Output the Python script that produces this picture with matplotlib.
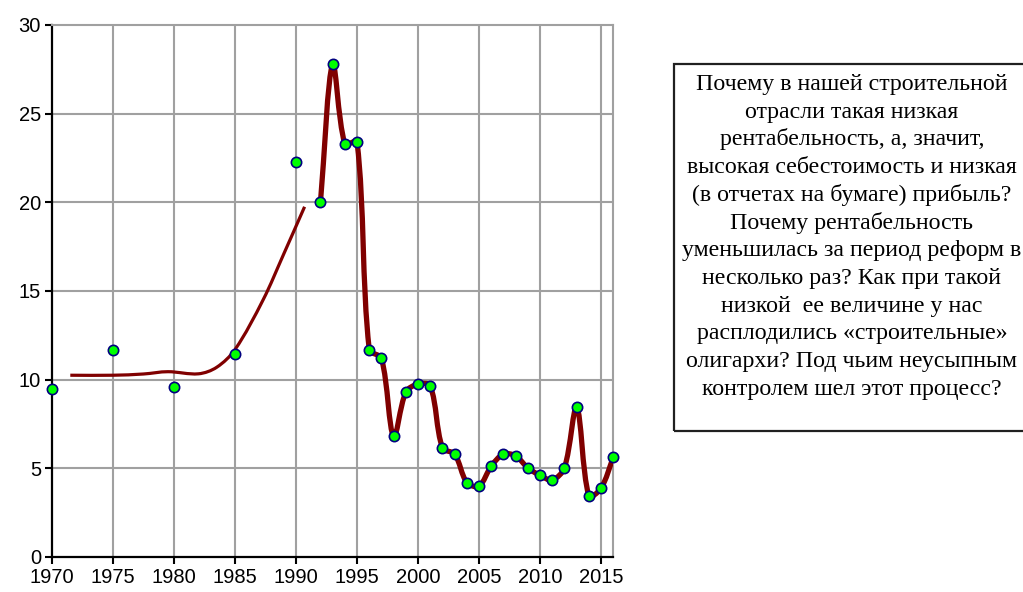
import matplotlib
matplotlib.use("Agg")
import matplotlib.pyplot as plt
from matplotlib.path import Path
from matplotlib.patches import PathPatch, Rectangle
import numpy as np

# ---- data ----
years = [1970, 1975, 1980, 1985, 1990, 1992, 1993, 1994, 1995, 1996, 1997, 1998,
         1999, 2000, 2001, 2002, 2003, 2004, 2005, 2006, 2007, 2008, 2009, 2010,
         2011, 2012, 2013, 2014, 2015, 2016]
values = [9.5, 11.7, 9.6, 11.45, 22.3, 20.0, 27.8, 23.3, 23.4, 11.7, 11.2, 6.8,
          9.3, 9.75, 9.65, 6.15, 5.8, 4.2, 4.0, 5.13, 5.8, 5.7, 5.02, 4.6,
          4.34, 5.04, 8.44, 3.44, 3.89, 5.62]
# year from which the thick smoothed line is drawn
line_start_year = 1992

# thin early curve (trend)
trend_years = [1971.5, 1975, 1977.5, 1979.5, 1982, 1983.5, 1985, 1987.3, 1989, 1990.7]
trend_values = [10.25, 10.25, 10.32, 10.45, 10.33, 10.7, 11.7, 14.5, 17.1, 19.75]

x_ticks = [1970, 1975, 1980, 1985, 1990, 1995, 2000, 2005, 2010, 2015]
y_ticks = [0, 5, 10, 15, 20, 25, 30]

note_lines = [
    "Почему в нашей строительной",
    "отрасли такая низкая",
    "рентабельность, а, значит,",
    "высокая себестоимость и низкая",
    "(в отчетах на бумаге) прибыль?",
    "Почему рентабельность",
    "уменьшилась за период реформ в",
    "несколько раз? Как при такой",
    "низкой  ее величине у нас",
    "расплодились «строительные»",
    "олигархи? Под чьим неусыпным",
    "контролем шел этот процесс?",
]

W, H = 1023, 592
AX_L, AX_R, AX_T, AX_B = 52, 613.3, 25, 557
XMIN, XMAX, YMIN, YMAX = 1970, 2016, 0, 30
SX = (AX_R - AX_L) / (XMAX - XMIN)   # px per year
SY = (AX_B - AX_T) / (YMAX - YMIN)   # px per unit


def smooth_path(xs, ys):
    """Chord-length scaled Catmull-Rom Bezier path (Excel-like smoothed line)."""
    pts = np.column_stack([xs, ys]).astype(float)
    scr = pts * np.array([SX, SY])
    n = len(pts)

    def d(i, j):
        return float(np.hypot(*(scr[j] - scr[i])))

    verts = [pts[0]]
    codes = [Path.MOVETO]
    for i in range(n - 1):
        i0 = max(i - 1, 0)
        i3 = min(i + 2, n - 1)
        d01, d12, d23 = d(i0, i), d(i, i + 1), d(i + 1, i3)
        p0, p1, p2, p3 = pts[i0], pts[i], pts[i + 1], pts[i3]
        c1 = p1 + (p2 - p0) * d12 / (3.0 * (d01 + d12))
        c2 = p2 - (p3 - p1) * d12 / (3.0 * (d12 + d23))
        verts += [c1, c2, p2]
        codes += [Path.CURVE4] * 3
    return Path(verts, codes)


fig = plt.figure(figsize=(W / 100, H / 100), dpi=100)
ax = fig.add_axes([AX_L / W, (H - AX_B) / H, (AX_R - AX_L) / W, (AX_B - AX_T) / H])

ax.set_xlim(XMIN, XMAX)
ax.set_ylim(YMIN, YMAX)

grid_color = "#a0a0a0"
for xt in x_ticks[1:]:
    ax.axvline(xt, color=grid_color, lw=1.5, zorder=1)
for yt in y_ticks[1:-1]:
    ax.axhline(yt, color=grid_color, lw=1.5, zorder=1)

for side in ["top", "right"]:
    ax.spines[side].set_color(grid_color)
    ax.spines[side].set_linewidth(1.5)
for side in ["left", "bottom"]:
    ax.spines[side].set_color("black")
    ax.spines[side].set_linewidth(1.6)

ax.set_xticks(x_ticks)
ax.set_yticks(y_ticks)
ax.tick_params(direction="out", length=5, width=1.5, color="black",
               labelsize=14.5, pad=3)
for lab in ax.get_xticklabels() + ax.get_yticklabels():
    lab.set_fontfamily("Liberation Sans")

# thin early curve
ax.add_patch(PathPatch(smooth_path(trend_years, trend_values), fill=False,
                       edgecolor="#800000", lw=2.3, zorder=3))

# thick smoothed line from 1992
idx = [i for i, y in enumerate(years) if y >= line_start_year]
lx = [years[i] for i in idx]
ly = [values[i] for i in idx]
ax.add_patch(PathPatch(smooth_path(lx, ly), fill=False, edgecolor="#800000",
                       lw=3.8, zorder=3, capstyle="round", joinstyle="round"))

ax.plot(years, values, linestyle="none", marker="o", markersize=7.4,
        markerfacecolor="#00ff00", markeredgecolor="#000080",
        markeredgewidth=1.2, zorder=5, clip_on=False)

# note box
fig.patches.append(Rectangle((674 / W, (H - 431) / H), 0.5, (431 - 64) / H,
                             transform=fig.transFigure, fill=False,
                             edgecolor="#202020", lw=1.6))
for i, line in enumerate(note_lines):
    y_px = 90.0 + 27.7 * i  # baseline
    fig.text(852 / W, (H - y_px) / H, line, ha="center", va="baseline",
             fontsize=17.2, family="Liberation Serif", color="black")

fig.savefig("out.png", dpi=100)
